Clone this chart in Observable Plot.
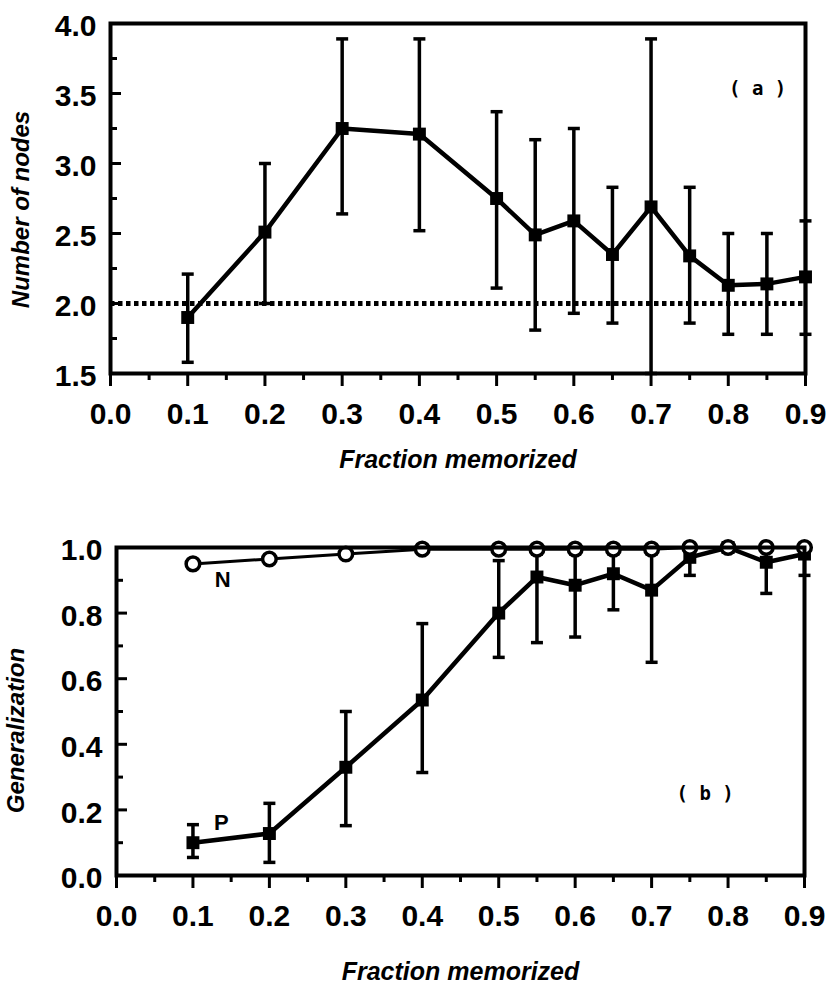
<!DOCTYPE html>
<html><head><meta charset="utf-8">
<script src="https://cdn.jsdelivr.net/npm/d3@7"></script>
<script src="https://cdn.jsdelivr.net/npm/@observablehq/plot@0.6"></script>
<style>
html,body{margin:0;padding:0;background:#fff;}
#chart{width:828px;}
#chart svg{display:block;}
</style></head><body><div id="chart"></div>
<script>
// ---- data ----
const fraction = [0.1, 0.2, 0.3, 0.4, 0.5, 0.55, 0.6, 0.65, 0.7, 0.75, 0.8, 0.85, 0.9];

// panel (a): number of nodes
const nodesMean = [1.90, 2.51, 3.25, 3.21, 2.75, 2.49, 2.59, 2.35, 2.69, 2.34, 2.13, 2.14, 2.19];
const nodesHi   = [2.21, 3.00, 3.89, 3.89, 3.37, 3.17, 3.25, 2.83, 3.89, 2.83, 2.50, 2.50, 2.59];
const nodesLo   = [1.58, 2.00, 2.64, 2.52, 2.11, 1.81, 1.93, 1.86, 1.50, 1.86, 1.78, 1.78, 1.78];
const nodesBaseline = [2.0];

// panel (b): generalization
const genN   = [0.95, 0.965, 0.98, 0.995, 0.995, 0.995, 0.995, 0.995, 0.995, 1.0, 1.0, 1.0, 1.0];
const genP   = [0.10, 0.128, 0.33, 0.535, 0.80, 0.91, 0.885, 0.92, 0.87, 0.97, 1.0, 0.955, 0.98];
const genPHi = [0.155, 0.22, 0.50, 0.768, 0.96, 0.98, 0.98, 0.98, 0.98, 1.0, 1.0, 1.0, 1.0];
const genPLo = [0.055, 0.04, 0.152, 0.314, 0.665, 0.71, 0.727, 0.81, 0.65, 0.915, 1.0, 0.86, 0.915];

// ticks
const xMajor = [0, 0.1, 0.2, 0.3, 0.4, 0.5, 0.6, 0.7, 0.8, 0.9];
const xMinor = [0.05, 0.15, 0.25, 0.35, 0.45, 0.55, 0.65, 0.75, 0.85];
const yMajorA = [1.5, 2.0, 2.5, 3.0, 3.5, 4.0];
const yMinorA = [1.75, 2.25, 2.75, 3.25, 3.75];
const yMajorB = [0, 0.2, 0.4, 0.6, 0.8, 1.0];
const yMinorB = [0.1, 0.3, 0.5, 0.7, 0.9];

// texts
const xTitle = ["Fraction memorized"];
const yTitleA = ["Number of nodes"];
const yTitleB = ["Generalization"];
const notesA = [{x: 0.838, y: 3.53, text: "( a )"}];
const notesB = [{x: 0.77, y: 0.25, text: "( b )"}];
const seriesLabels = [{x: 0.139, y: 0.90, text: "N"}, {x: 0.137, y: 0.16, text: "P"}];

// ---- build ----
const W = 828;
const FONT = "'Liberation Sans', Arial, Helvetica, sans-serif";
const capSymbol = {draw(ctx, size) { const r = Math.sqrt(size / Math.PI); ctx.moveTo(-r, 0); ctx.lineTo(r, 0); }};
const fmt = d3.format(".1f");

const nodes = fraction.map((x, i) => ({x, mean: nodesMean[i], hi: nodesHi[i], lo: nodesLo[i]}));
const gen = fraction.map((x, i) => ({x, n: genN[i], p: genP[i], hi: genPHi[i], lo: genPLo[i]}));

function panel({height, mt, mb, ml, mr, ydomain, yMajor, yMinor, dataMarks, yTitle, yTitleDx, yTitleDy, xTitleDy, notes}) {
  const innerW = W - ml - mr;
  return Plot.plot({
    width: W, height,
    marginLeft: ml, marginRight: mr, marginTop: mt, marginBottom: mb,
    x: {domain: [0, 0.9]},
    y: {domain: ydomain},
    style: {fontFamily: FONT, background: "white", color: "black", overflow: "visible"},
    marks: [
      ...dataMarks,
      Plot.frame({stroke: "black", strokeWidth: 4}),
      Plot.ruleY(yMajor, {stroke: "black", strokeWidth: 3, insetRight: innerW - 11}),
      Plot.ruleY(yMinor, {stroke: "black", strokeWidth: 3, insetRight: innerW - 7}),
      Plot.axisY({ticks: yMajor, tickSize: 0, tickPadding: 14, tickFormat: fmt, fontSize: 30, fontWeight: "bold", label: null, dy: 3}),
      Plot.axisX({ticks: xMajor, tickSize: 13, tickPadding: 16, tickFormat: fmt, fontSize: 30, fontWeight: "bold", strokeWidth: 3, label: null}),
      Plot.axisX({ticks: xMinor, tickSize: 7, tickFormat: () => "", strokeWidth: 3, label: null}),
      Plot.text(yTitle, {frameAnchor: "left", textAnchor: "middle", dx: yTitleDx, dy: yTitleDy, rotate: -90, fontSize: 24, fontWeight: "bold", fontStyle: "italic"}),
      Plot.text(xTitle, {frameAnchor: "bottom", dy: xTitleDy, fontSize: 25, fontWeight: "bold", fontStyle: "italic"}),
      Plot.text(notes, {x: "x", y: "y", text: "text", fontFamily: "'DejaVu Sans Mono', monospace", fontSize: 19, fontWeight: "bold"})
    ]
  });
}

const panelA = panel({
  height: 470, mt: 23, mb: 97, ml: 110, mr: 23,
  ydomain: [1.5, 4.0], yMajor: yMajorA, yMinor: yMinorA,
  yTitle: yTitleA, yTitleDx: -89, yTitleDy: 11, xTitleDy: 94, notes: notesA,
  dataMarks: [
    Plot.ruleY(nodesBaseline, {stroke: "black", strokeWidth: 5, strokeDasharray: "4.5,3.5"}),
    Plot.ruleX(nodes, {x: "x", y1: "lo", y2: "hi", stroke: "black", strokeWidth: 3.5}),
    Plot.dot(nodes, {x: "x", y: "hi", symbol: capSymbol, r: 6, stroke: "black", fill: "none", strokeWidth: 3.5}),
    Plot.dot(nodes, {x: "x", y: "lo", symbol: capSymbol, r: 6, stroke: "black", fill: "none", strokeWidth: 3.5}),
    Plot.line(nodes, {x: "x", y: "mean", stroke: "black", strokeWidth: 4.5}),
    Plot.dot(nodes, {x: "x", y: "mean", symbol: "square", r: 7.3, fill: "black", stroke: "none"})
  ]
});

const panelB = panel({
  height: 516, mt: 77, mb: 111, ml: 116, mr: 24,
  ydomain: [0, 1.0], yMajor: yMajorB, yMinor: yMinorB,
  yTitle: yTitleB, yTitleDx: -100, yTitleDy: 19, xTitleDy: 104, notes: notesB,
  dataMarks: [
    Plot.ruleX(gen, {x: "x", y1: "lo", y2: "hi", stroke: "black", strokeWidth: 3.5}),
    Plot.dot(gen, {x: "x", y: "hi", symbol: capSymbol, r: 6, stroke: "black", fill: "none", strokeWidth: 3.5}),
    Plot.dot(gen, {x: "x", y: "lo", symbol: capSymbol, r: 6, stroke: "black", fill: "none", strokeWidth: 3.5}),
    Plot.line(gen, {x: "x", y: "p", stroke: "black", strokeWidth: 4.5}),
    Plot.dot(gen, {x: "x", y: "p", symbol: "square", r: 7.3, fill: "black", stroke: "none"}),
    Plot.line(gen, {x: "x", y: "n", stroke: "black", strokeWidth: 3}),
    Plot.dot(gen, {x: "x", y: "n", r: 6.8, fill: "white", stroke: "black", strokeWidth: 3.5}),
    Plot.text(seriesLabels, {x: "x", y: "y", text: "text", fontSize: 22, fontWeight: "bold"})
  ]
});

document.getElementById("chart").append(panelA, panelB);
</script>
</body></html>
